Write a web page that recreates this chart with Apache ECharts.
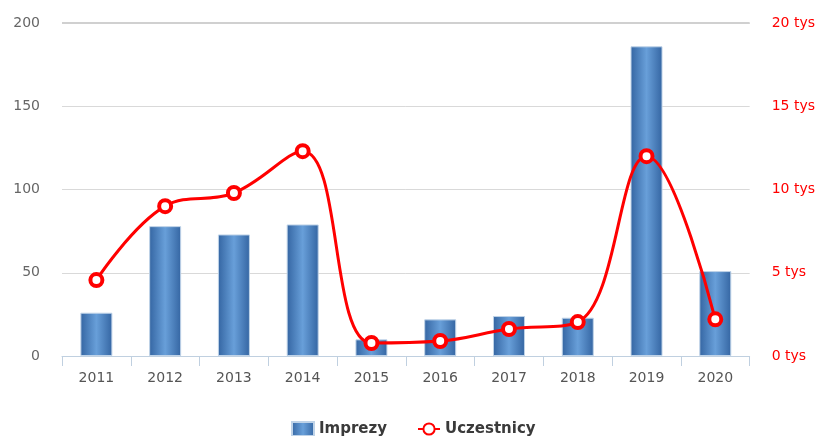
<!DOCTYPE html>
<html>
<head>
<meta charset="utf-8">
<script src="https://cdn.jsdelivr.net/npm/echarts@6/dist/echarts.min.js"></script>
<style>
  html, body { margin: 0; padding: 0; background: #fff; }
  #chart { width: 818px; height: 436px; }
</style>
</head>
<body>
<div id="chart"></div>
<script>
const years = ['2011', '2012', '2013', '2014', '2015', '2016', '2017', '2018', '2019', '2020']
const imprezy = [26, 78, 73, 79, 10, 22, 24, 23, 186, 51]
const uczestnicy = [4560, 9000, 9790, 12300, 780, 900, 1620, 2040, 12000, 2200]
const leftTicks = [0, 50, 100, 150, 200]
const rightTicks = [0, 5000, 10000, 15000, 20000]

const chart = echarts.init(document.getElementById('chart'), null, { renderer: 'canvas' })

// light stripe in the middle, darker edges
const barFill = new echarts.graphic.LinearGradient(0, 0, 1, 0, [
  { offset: 0, color: '#3465a2' },
  { offset: 0.5, color: '#689fd9' },
  { offset: 1, color: '#3465a2' }
])

const option = {
  animation: false,
  textStyle: { fontFamily: 'DejaVu Sans' },
  grid: { left: 62, right: 66, top: 23, bottom: 80 },
  legend: {
    top: 416,
    left: 286,
    itemGap: 30,
    itemWidth: 22,
    itemHeight: 14,
    textStyle: { color: '#3a3a3a', fontSize: 15, fontWeight: 'bold' },
    data: [
      { name: 'Imprezy', icon: 'rect' },
      { name: 'Uczestnicy' }
    ]
  },
  xAxis: {
    type: 'category',
    data: years,
    axisLine: { lineStyle: { color: '#c0d0e0' } },
    axisTick: { show: true, length: 10, lineStyle: { color: '#c0d0e0' } },
    axisLabel: { color: '#555', fontSize: 14, margin: 15 }
  },
  yAxis: [
    {
      type: 'value',
      min: leftTicks[0],
      max: leftTicks[leftTicks.length - 1],
      interval: 50,
      axisLine: { show: false },
      axisTick: { show: false },
      axisLabel: { color: '#666', fontSize: 14, margin: 22 },
      splitLine: { lineStyle: { color: '#d9d9d9', width: 1 } }
    },
    {
      type: 'value',
      min: rightTicks[0],
      max: rightTicks[rightTicks.length - 1],
      interval: 5000,
      axisLine: { show: false },
      axisTick: { show: false },
      axisLabel: {
        color: '#ff0000',
        fontSize: 14,
        margin: 22,
        formatter: v => (v / 1000) + ' tys'
      },
      splitLine: { show: false }
    }
  ],
  series: [
    {
      name: 'Imprezy',
      type: 'bar',
      data: imprezy,
      barWidth: 32,
      itemStyle: { color: barFill, borderColor: '#bfd3e8', borderWidth: 1 },
      markLine: {
        silent: true,
        symbol: 'none',
        label: { show: false },
        lineStyle: { color: '#d0d0d0', width: 2, type: 'solid' },
        data: [{ yAxis: leftTicks[leftTicks.length - 1] }]
      }
    },
    {
      name: 'Uczestnicy',
      type: 'line',
      yAxisIndex: 1,
      data: uczestnicy,
      smooth: 0.4,
      symbol: 'circle',
      symbolSize: 12,
      lineStyle: { color: '#ff0000', width: 3 },
      itemStyle: { color: '#fff', borderColor: '#ff0000', borderWidth: 4 }
    }
  ]
}

chart.setOption(option)
</script>
</body>
</html>
